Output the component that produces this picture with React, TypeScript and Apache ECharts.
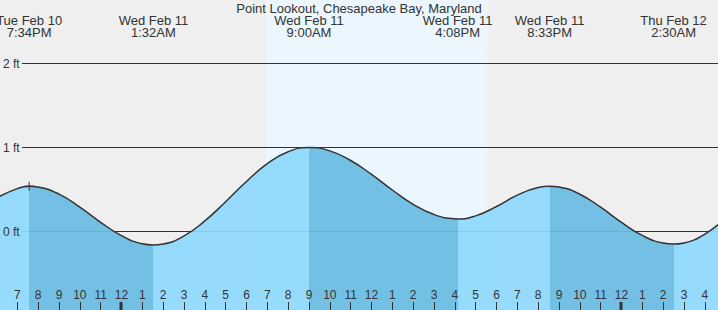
import React, { useEffect, useRef } from 'react';
import * as echarts from 'echarts';

// ---------- data (hours since Wed Feb 11 00:00, heights in ft) ----------
const TITLE = 'Point Lookout, Chesapeake Bay, Maryland';

const tideHours = [
  -6, -5, -4.433, -4, -3, -2, -1, 0, 1, 1.533, 2, 3, 4, 5, 6, 7, 8, 9, 10, 11, 12,
  13, 14, 15, 16, 16.133, 17, 18, 19, 20, 20.55, 21, 22, 23, 24, 25, 26, 26.5, 27, 28, 29,
];
const tideFeet = [
  0.4, 0.51, 0.54, 0.53, 0.445, 0.29, 0.11, -0.05, -0.146, -0.16, -0.149, -0.053, 0.126,
  0.355, 0.596, 0.807, 0.949, 1.0, 0.96, 0.845, 0.68, 0.494, 0.324, 0.202, 0.151, 0.15,
  0.186, 0.298, 0.433, 0.525, 0.54, 0.53, 0.444, 0.289, 0.109, -0.047, -0.138, -0.15,
  -0.136, -0.03, 0.162,
];

const eventHours = [-4.433, 1.533, 9.0, 16.133, 20.55, 26.5];
const eventFeet = [0.54, -0.16, 1.0, 0.15, 0.54, -0.15];
const eventKinds = ['high', 'low', 'high', 'low', 'high', 'low'];
const eventDays = ['Tue Feb 10', 'Wed Feb 11', 'Wed Feb 11', 'Wed Feb 11', 'Wed Feb 11', 'Thu Feb 12'];
const eventTimes = ['7:34PM', '1:32AM', '9:00AM', '4:08PM', '8:33PM', '2:30AM'];

const tickHours = [
  -5, -4, -3, -2, -1, 0, 1, 2, 3, 4, 5, 6, 7, 8, 9, 10, 11, 12, 13, 14, 15, 16, 17, 18, 19,
  20, 21, 22, 23, 24, 25, 26, 27, 28,
];
const midnightHours = [0, 24];
const sunriseHour = 6.93;
const sunsetHour = 17.58;
const gridFeet = [0, 1, 2];

// ---------- axis ranges / styles ----------
const X_MIN = -5.832;
const X_MAX = 28.632;
const Y_MIN = -0.9345;
const Y_MAX = 2.756;
const GRID_LINE_START = -4.78;

const FONT = '"Liberation Sans", Arial, sans-serif';
const TEXT = '#333';
const BG = '#efefef';
const DAY = '#ebf6ff';
// water is slightly translucent so the gridlines show faintly through it
const WATER_OPACITY = 0.93;
const WATER_LIGHT = 'rgb(143,217,252)';
const WATER_DARK = 'rgb(106,188,227)';

const hourLabel = (v: number) => {
  if (Math.abs(v - Math.round(v)) > 1e-6) return '';
  const r = ((Math.round(v) % 12) + 12) % 12;
  return String(r === 0 ? 12 : r);
};

function buildPieces() {
  const pieces: any[] = [];
  pieces.push({ lt: eventHours[0], color: eventKinds[0] === 'high' ? WATER_LIGHT : WATER_DARK });
  for (let i = 0; i < eventHours.length; i++) {
    const color = eventKinds[i] === 'high' ? WATER_DARK : WATER_LIGHT;
    if (i < eventHours.length - 1) {
      pieces.push({ gte: eventHours[i], lt: eventHours[i + 1], color });
    } else {
      pieces.push({ gte: eventHours[i], color });
    }
  }
  return pieces;
}

export default function App() {
  const ref = useRef<HTMLDivElement>(null);

  useEffect(() => {
    if (!ref.current) return;
    const chart = echarts.init(ref.current, null, { renderer: 'svg' });
    const tideData = tideHours.map((h, i) => [h, tideFeet[i]]);

    const plainLine = {
      type: 'line',
      showSymbol: false,
      symbol: 'none',
      silent: true,
      emphasis: { disabled: true },
    };

    const gridSeries = gridFeet.map((v) => ({
      ...plainLine,
      z: 10,
      data: [
        [GRID_LINE_START, v],
        [X_MAX, v],
      ],
      lineStyle: { color: TEXT, width: 1 },
    }));

    const option: any = {
      animation: false,
      backgroundColor: BG,
      title: {
        text: TITLE,
        left: 'center',
        top: 1.5,
        padding: 0,
        textStyle: { fontSize: 13, fontWeight: 'normal', color: TEXT, fontFamily: FONT, lineHeight: 13 },
        z: 13,
      },
      grid: { left: 0, right: 0, top: 0, bottom: 0 },
      xAxis: {
        type: 'value',
        min: X_MIN,
        max: X_MAX,
        splitNumber: 35,
        minInterval: 1,
        maxInterval: 1,
        z: 13,
        axisLine: { show: false, onZero: false },
        splitLine: { show: false },
        axisTick: {
          show: true,
          inside: true,
          length: 8,
          customValues: tickHours,
          lineStyle: { color: TEXT, width: 1 },
        },
        axisLabel: {
          inside: true,
          margin: 9,
          customValues: tickHours,
          color: TEXT,
          fontSize: 12,
          fontFamily: FONT,
          formatter: hourLabel,
        },
      },
      yAxis: {
        type: 'value',
        min: Y_MIN,
        max: Y_MAX,
        splitNumber: 4,
        minInterval: 1,
        maxInterval: 1,
        z: 13,
        axisLine: { show: false, onZero: false },
        axisTick: { show: false },
        splitLine: { show: false },
        axisLabel: {
          inside: true,
          margin: 3,
          customValues: gridFeet,
          color: TEXT,
          fontSize: 12,
          fontFamily: FONT,
          formatter: (v: number) => (gridFeet.includes(v) ? `${v} ft` : ''),
        },
      },
      visualMap: {
        type: 'piecewise',
        show: false,
        dimension: 0,
        seriesIndex: 0,
        pieces: buildPieces(),
      },
      series: [
        {
          ...plainLine,
          z: 11,
          data: tideData,
          smooth: true,
          lineStyle: { width: 0, opacity: 0 },
          areaStyle: { origin: 'start', opacity: WATER_OPACITY },
          markArea: {
            silent: true,
            z: 0,
            itemStyle: { color: DAY },
            data: [[{ xAxis: sunriseHour }, { xAxis: sunsetHour }]],
          },
        },
        {
          ...plainLine,
          z: 12,
          data: tideData,
          smooth: true,
          lineStyle: { color: TEXT, width: 1.5 },
          markPoint: {
            silent: true,
            z: 13,
            symbol: 'path://M5 0V10M0 5H10',
            symbolSize: 9,
            itemStyle: { color: 'transparent', borderColor: TEXT, borderWidth: 1 },
            label: { show: false },
            data: [{ coord: [eventHours[0], eventFeet[0]] }],
          },
        },
        ...gridSeries,
        {
          type: 'custom',
          z: 13,
          silent: true,
          data: eventHours.map((h, i) => [h, eventFeet[i]]),
          renderItem: (params: any, api: any) => {
            const i = params.dataIndex;
            const p = api.coord([api.value(0), api.value(1)]);
            const textStyle = {
              fill: TEXT,
              fontSize: 13,
              fontFamily: FONT,
              align: 'center',
              verticalAlign: 'top',
              lineHeight: 12,
            };
            return {
              type: 'group',
              children: [
                { type: 'text', x: p[0], y: 14, style: { ...textStyle, text: eventDays[i] } },
                { type: 'text', x: p[0], y: 26, style: { ...textStyle, text: eventTimes[i] } },
              ],
            };
          },
        },
        {
          type: 'custom',
          z: 13,
          silent: true,
          data: midnightHours.map((h) => [h, Y_MIN]),
          renderItem: (_params: any, api: any) => {
            const p = api.coord([api.value(0), api.value(1)]);
            return {
              type: 'rect',
              shape: { x: p[0] - 2, y: p[1] - 8, width: 3, height: 8 },
              style: { fill: TEXT },
            };
          },
        },
      ],
    };

    chart.setOption(option);
    return () => chart.dispose();
  }, []);

  return <div ref={ref} style={{ position: 'fixed', left: 0, top: 0, width: 718, height: 310 }} />;
}
